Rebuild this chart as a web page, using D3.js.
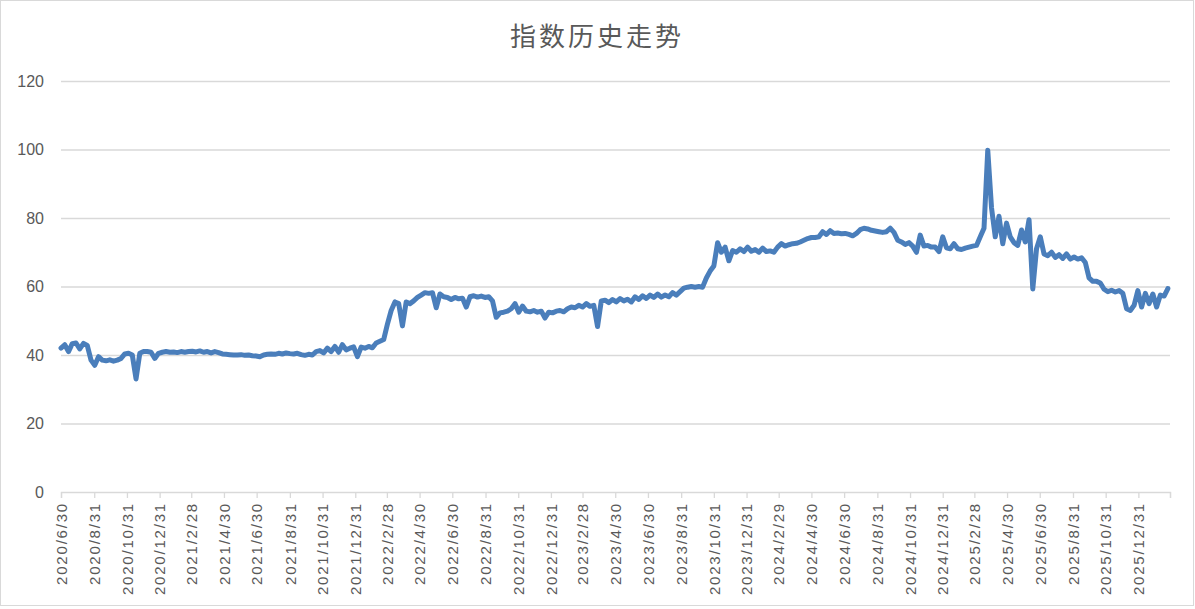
<!DOCTYPE html>
<html>
<head>
<meta charset="utf-8">
<script src="https://cdn.jsdelivr.net/npm/d3@7"></script>
<style>
  body { margin: 0; background: #fff; }
  svg { display: block; }
</style>
</head>
<body>
<svg id="chart" width="1195" height="609"></svg>
<script>
// weekly closes, first point 2020/6/30
var startDate = "2020/6/30";
var values = [
    42.0, 43.0, 41.0, 43.3, 43.5, 41.8, 43.4, 42.8, 38.5, 37.0,
    39.5, 38.5, 38.3, 38.6, 38.2, 38.5, 39.0, 40.3, 40.5, 40.0,
    33.0, 40.5, 41.0, 41.0, 40.8, 39.0, 40.5, 40.8, 41.0, 40.8,
    40.9, 40.7, 41.0, 40.8, 41.0, 41.1, 40.9, 41.2, 40.8, 41.0,
    40.6, 41.0, 40.7, 40.3, 40.2, 40.1, 40.0, 40.0, 40.1, 39.9,
    40.0, 39.8, 39.7, 39.5, 40.0, 40.2, 40.3, 40.2, 40.5, 40.3,
    40.6, 40.4, 40.3, 40.5, 40.1, 39.9, 40.2, 40.0, 41.0, 41.3,
    40.6, 42.0, 41.0, 42.5, 40.8, 43.0, 41.5, 42.0, 42.4, 39.5,
    42.3, 42.0, 42.5, 42.1, 43.5, 44.0, 44.5, 49.0, 53.0, 55.5,
    55.0, 48.5, 55.5, 55.0, 55.8, 56.8, 57.5, 58.2, 58.0, 58.2,
    53.8, 57.8, 57.0, 56.8, 56.2, 56.8, 56.4, 56.6, 54.0, 57.0,
    57.3, 56.9, 57.2, 56.8, 57.0, 55.8, 51.0, 52.3, 52.5, 52.8,
    53.5, 55.0, 52.5, 54.3, 52.8, 52.6, 53.0, 52.5, 52.8, 50.8,
    52.5, 52.3, 52.8, 53.0, 52.6, 53.5, 54.0, 53.8, 54.5, 54.0,
    55.0, 54.2, 54.5, 48.3, 55.8, 56.0, 55.3, 56.2, 55.5, 56.5,
    55.8, 56.3, 55.5, 57.0, 56.2, 57.3, 56.5, 57.5, 56.8, 57.8,
    56.9, 57.5, 57.0, 58.2, 57.5, 58.5, 59.5, 59.8, 60.0, 59.8,
    60.0, 59.8, 62.5, 64.5, 66.0, 72.8, 70.0, 71.5, 67.5, 70.5,
    70.0, 71.0, 70.2, 71.5, 70.3, 70.8, 70.0, 71.2, 70.2, 70.4,
    70.0, 71.5, 72.5, 71.8, 72.2, 72.5, 72.6, 73.0, 73.5, 74.0,
    74.3, 74.3, 74.5, 76.0, 75.2, 76.3, 75.5, 75.6, 75.4, 75.5,
    75.2, 74.8, 75.5, 76.6, 77.0, 76.8, 76.4, 76.2, 76.0, 75.8,
    76.0, 77.0, 75.8, 73.5, 73.0, 72.3, 72.8, 71.8, 70.0, 75.0,
    71.8, 72.0, 71.5, 71.5, 70.2, 74.5, 71.3, 71.0, 72.5, 71.0,
    70.8, 71.2, 71.5, 71.8, 72.0, 74.5, 77.0, 99.8, 83.0, 74.5,
    80.5, 72.5, 78.5, 74.5, 72.8, 72.0, 76.5, 73.0, 79.5, 59.3,
    71.0, 74.5, 69.5, 69.0, 70.0, 68.5, 69.3, 68.2, 69.5, 68.0,
    68.6, 68.0, 68.4, 67.0, 62.5, 61.5, 61.5, 61.0, 59.2, 58.5,
    58.9, 58.4, 58.8, 58.0, 53.5, 53.0, 54.5, 58.8, 54.0, 58.0,
    55.0, 57.8, 54.0, 57.5, 57.2, 59.4
];

// two-monthly ticks; the last one sits on the axis end and has no label
var tickDates = [
    "2020/6/30", "2020/8/31", "2020/10/31", "2020/12/31",
    "2021/2/28", "2021/4/30", "2021/6/30", "2021/8/31", "2021/10/31", "2021/12/31",
    "2022/2/28", "2022/4/30", "2022/6/30", "2022/8/31", "2022/10/31", "2022/12/31",
    "2023/2/28", "2023/4/30", "2023/6/30", "2023/8/31", "2023/10/31", "2023/12/31",
    "2024/2/29", "2024/4/30", "2024/6/30", "2024/8/31", "2024/10/31", "2024/12/31",
    "2025/2/28", "2025/4/30", "2025/6/30", "2025/8/31", "2025/10/31", "2025/12/31",
    "2026/2/28"
];
var yTicks = [0, 20, 40, 60, 80, 100, 120];
var title = "指数历史走势";

window.addEventListener( "load", makeChart );
function makeChart() {
    var parse = d3.timeParse( "%Y/%-m/%-d" );
    var t0 = parse( startDate );
    var data = values.map( (v, i) => ({ date: d3.timeDay.offset( t0, 7*i ), value: v }) );
    var ticks = tickDates.map( parse );

    var x0 = 61, x1 = 1170, y0 = 492, y1 = 81;
    var scX = d3.scaleTime().domain( [ticks[0], ticks[ticks.length-1]] ).range( [x0, x1] );
    var scY = d3.scaleLinear().domain( [0, 120] ).range( [y0, y1] );

    var svg = d3.select( "#chart" );

    // outer frame
    svg.append( "rect" ).attr( "x", 0.5 ).attr( "y", 0.5 )
        .attr( "width", 1193 ).attr( "height", 605 )
        .attr( "fill", "#fff" ).attr( "stroke", "#d9d9d9" );

    svg.append( "text" ).text( title )
        .attr( "x", 597 ).attr( "y", 46 ).attr( "text-anchor", "middle" )
        .attr( "font-family", "'Noto Sans CJK SC', sans-serif" )
        .attr( "font-size", 26 ).attr( "letter-spacing", 3 )
        .attr( "fill", "#595959" );

    // y axis: gridlines + labels
    var gy = svg.append( "g" ).attr( "transform", "translate(" + x0 + ",0)" )
        .call( d3.axisLeft( scY ).tickValues( yTicks ).tickSize( -(x1-x0) ).tickPadding( 17 ) );
    gy.select( ".domain" ).remove();
    gy.selectAll( "line" ).attr( "stroke", "#d9d9d9" ).attr( "stroke-width", 1.3 );
    gy.selectAll( ".tick" ).filter( d => d === 0 ).select( "line" ).remove();
    gy.selectAll( "text" ).attr( "fill", "#595959" )
        .attr( "font-family", "'Liberation Sans', Arial, sans-serif" ).attr( "font-size", 16 );

    // x axis
    var gx = svg.append( "g" ).attr( "transform", "translate(0," + y0 + ")" )
        .call( d3.axisBottom( scX ).tickValues( ticks ).tickSizeOuter( 0 ).tickSize( 6 )
               .tickFormat( (d, i) => i < tickDates.length-1 ? tickDates[i] : "" ) );
    gx.select( ".domain" ).attr( "stroke", "#d9d9d9" ).attr( "stroke-width", 1.3 );
    gx.selectAll( "line" ).attr( "stroke", "#d9d9d9" ).attr( "stroke-width", 1.3 );
    gx.selectAll( "text" )
        .attr( "fill", "#595959" )
        .attr( "font-family", "'Liberation Sans', Arial, sans-serif" ).attr( "font-size", 15 )
        .attr( "letter-spacing", 1.8 )
        .attr( "text-anchor", "end" )
        .attr( "transform", "translate(0,10) rotate(-90)" )
        .attr( "x", 0 ).attr( "y", 0 ).attr( "dy", "0.35em" );

    var line = d3.line().x( d => scX(d.date) ).y( d => scY(d.value) );
    svg.append( "path" ).datum( data ).attr( "d", line )
        .attr( "fill", "none" ).attr( "stroke", "#4a7ebb" )
        .attr( "stroke-width", 5 ).attr( "stroke-linejoin", "round" )
        .attr( "stroke-linecap", "round" );
}
</script>
</body>
</html>
